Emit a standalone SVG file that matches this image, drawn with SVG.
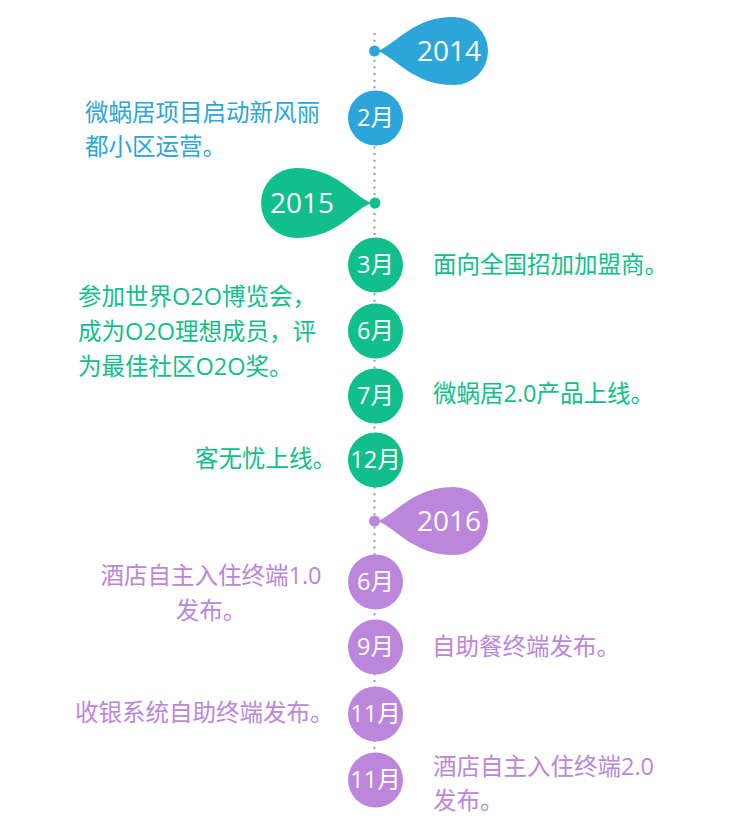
<svg xmlns="http://www.w3.org/2000/svg" width="750" height="820" viewBox="0 0 750 820">
<style>
.b{fill:#2ca6d8}.g{fill:#10bf8b}.p{fill:#bb86db}
.yr{font-family:"Open Sans","Liberation Sans",sans-serif;font-size:28px;fill:#fff;text-anchor:middle}
.mo{font-family:"Open Sans","Noto Sans CJK SC",sans-serif;font-size:23.5px;fill:#fff;text-anchor:middle}
.tx{font-family:"Open Sans","Noto Sans CJK SC",sans-serif;font-size:23.5px}
</style>
<rect width="750" height="820" fill="#fff"/>
<g id="connectors">
<line x1="374.5" y1="33" x2="374.5" y2="780" stroke="#9a9a9a" stroke-width="2" stroke-dasharray="2 4.67"/>
</g>
<g id="y2014">
<path class="b" d="M378 51 C398 42 414 17 454 17 A34 34 0 0 1 454 85 C414 85 398 60 378 51 Z"/>
<circle class="b" cx="374.5" cy="51" r="5.5"/>
<text class="yr" x="449" y="61">2014</text>
</g>
<g id="m2014-2">
<circle class="b" cx="375.5" cy="118" r="27.5"/>
<text class="mo" x="375.5" y="126">2月</text>
<text class="tx b" x="85" y="121">微蜗居项目启动新风丽</text>
<text class="tx b" x="85" y="155">都小区运营。</text>
</g>
<g id="y2015">
<path class="g" d="M371 203 C351 194 336 168 296 168 A35 35 0 0 0 296 238 C336 238 351 212 371 203 Z"/>
<circle class="g" cx="375" cy="203" r="5.5"/>
<text class="yr" x="302" y="213">2015</text>
</g>
<g id="m2015-3">
<circle class="g" cx="375.5" cy="265" r="27.5"/>
<text class="mo" x="375.5" y="273">3月</text>
<text class="tx g" x="433" y="273">面向全国招加加盟商。</text>
</g>
<g id="m2015-6">
<circle class="g" cx="375.5" cy="331" r="27.5"/>
<text class="mo" x="375.5" y="339">6月</text>
<text class="tx g" x="78" y="305">参加世界O2O博览会，</text>
<text class="tx g" x="78" y="340">成为O2O理想成员，评</text>
<text class="tx g" x="78" y="375">为最佳社区O2O奖。</text>
</g>
<g id="m2015-7">
<circle class="g" cx="375.5" cy="396" r="27.5"/>
<text class="mo" x="375.5" y="404">7月</text>
<text class="tx g" x="433" y="402">微蜗居2.0产品上线。</text>
</g>
<g id="m2015-12">
<circle class="g" cx="375.5" cy="460" r="27.5"/>
<text class="mo" x="375.5" y="468">12月</text>
<text class="tx g" x="195" y="467">客无忧上线。</text>
</g>
<g id="y2016">
<path class="p" d="M378 521 C398 512 414 487 454 487 A34 34 0 0 1 454 555 C414 555 398 530 378 521 Z"/>
<circle class="p" cx="374.5" cy="521" r="5.5"/>
<text class="yr" x="449" y="531">2016</text>
</g>
<g id="m2016-6">
<circle class="p" cx="375.5" cy="582" r="27.5"/>
<text class="mo" x="375.5" y="590">6月</text>
<text class="tx p" x="211" y="584" text-anchor="middle">酒店自主入住终端1.0</text>
<text class="tx p" x="211" y="619" text-anchor="middle">发布。</text>
</g>
<g id="m2016-9">
<circle class="p" cx="375.5" cy="647" r="27.5"/>
<text class="mo" x="375.5" y="655">9月</text>
<text class="tx p" x="432" y="655">自助餐终端发布。</text>
</g>
<g id="m2016-11a">
<circle class="p" cx="375.5" cy="714" r="27.5"/>
<text class="mo" x="375.5" y="722">11月</text>
<text class="tx p" x="75" y="721">收银系统自助终端发布。</text>
</g>
<g id="m2016-11b">
<circle class="p" cx="375.5" cy="780" r="27.5"/>
<text class="mo" x="375.5" y="788">11月</text>
<text class="tx p" x="433" y="775">酒店自主入住终端2.0</text>
<text class="tx p" x="433" y="809">发布。</text>
</g>
</svg>
